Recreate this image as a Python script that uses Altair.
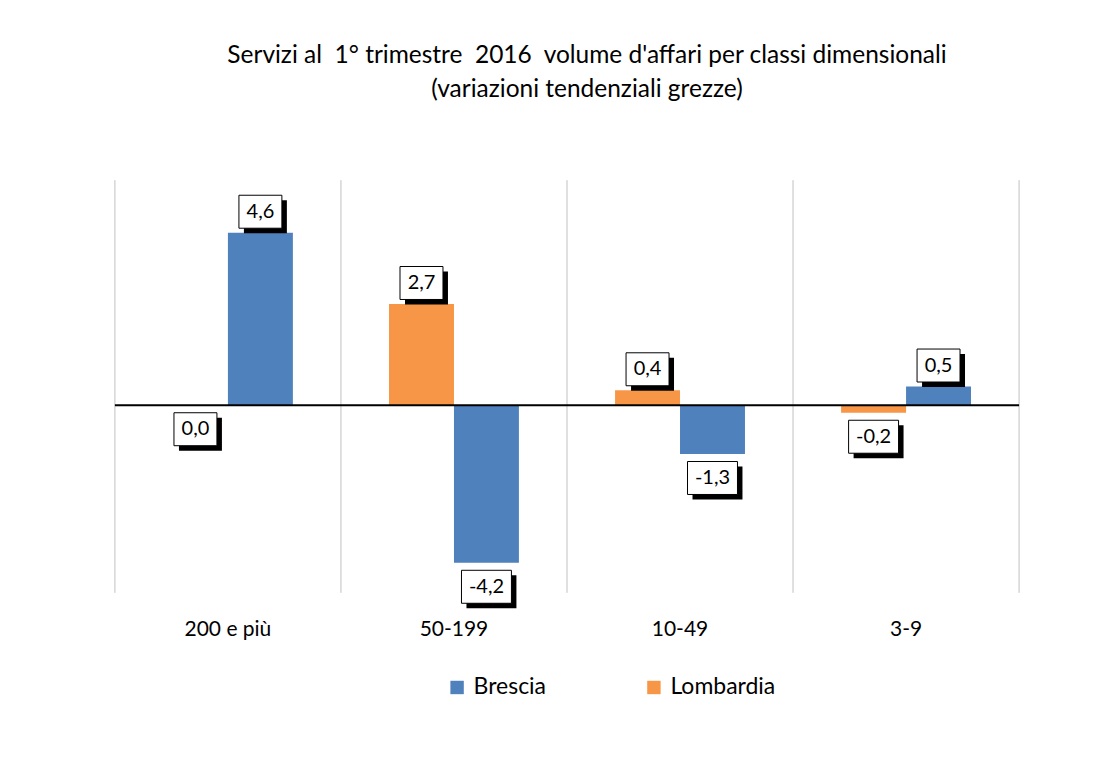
import altair as alt
import pandas as pd

categories = ["200 e più", "50-199", "10-49", "3-9"]
brescia = [4.6, -4.2, -1.3, 0.5]
lombardia = [0.0, 2.7, 0.4, -0.2]
legend_order = ["Brescia", "Lombardia"]
bar_order = ["Lombardia", "Brescia"]
colors = ["#4F81BD", "#F79646"]

rows = []
for i, c in enumerate(categories):
    rows.append({"cat": c, "serie": "Lombardia", "v": lombardia[i]})
    rows.append({"cat": c, "serie": "Brescia", "v": brescia[i]})
df = pd.DataFrame(rows)
df["label"] = df["v"].map(lambda v: f"{v:.1f}".replace(".", ","))

W, H = 905, 413
FONT = "Lato"

x_axis = alt.Axis(title=None, labelAngle=0, ticks=False, domain=False, grid=False,
                  bandPosition=0.5, labelAlign="center",
                  labelFontSize=21, labelFont=FONT, labelColor="#000000",
                  labelPadding=26)
x_enc = alt.X("cat:N", sort=categories,
              scale=alt.Scale(paddingInner=0, paddingOuter=0), axis=x_axis)
xo_enc = alt.XOffset("serie:N", sort=bar_order,
                     scale=alt.Scale(paddingInner=0, paddingOuter=0.74))
y_scale = alt.Scale(domain=[-5, 6], nice=False, zero=False)

bars = alt.Chart(df).mark_bar().encode(
    x=x_enc,
    xOffset=xo_enc,
    y=alt.Y("v:Q", scale=y_scale, axis=None),
    y2=alt.datum(0),
    color=alt.Color("serie:N", scale=alt.Scale(domain=legend_order, range=colors),
                    legend=alt.Legend(title=None, orient="none", direction="horizontal",
                                      legendX=331, legendY=496, symbolType="square",
                                      symbolSize=180, symbolStrokeWidth=0,
                                      labelFontSize=23, labelFont=FONT, labelColor="#000000",
                                      columnPadding=96, labelOffset=5, padding=0)),
)

grid = alt.Chart(pd.DataFrame({"cat": categories})).mark_rule(
    color="#C0C0C0", strokeWidth=1
).encode(
    x=alt.X("cat:N", sort=categories, bandPosition=0, axis=x_axis),
    y=alt.value(0), y2=alt.value(H)
)
grid_end = alt.Chart(pd.DataFrame({"cat": [categories[-1]]})).mark_rule(
    color="#C0C0C0", strokeWidth=1
).encode(
    x=alt.X("cat:N", sort=categories, bandPosition=1, axis=x_axis),
    y=alt.value(0), y2=alt.value(H)
)

zero = alt.Chart(pd.DataFrame({"z": [0]})).mark_rule(color="black", strokeWidth=2).encode(
    y=alt.Y("z:Q", scale=y_scale, axis=None),
    x=alt.value(0), x2=alt.value(W)
)

UNIT = 25.0  # half of sqrt(size)
BSIZE = (2 * UNIT) ** 2


def box_path(w, h, dx=0, dy=0):
    x0, x1 = (-w / 2 + dx) / UNIT, (w / 2 + dx) / UNIT
    y0, y1 = (-h / 2 + dy) / UNIT, (h / 2 + dy) / UNIT
    return f"M{x0:.3f},{y0:.3f}L{x1:.3f},{y0:.3f}L{x1:.3f},{y1:.3f}L{x0:.3f},{y1:.3f}Z"


BOX_H = 33
base = alt.Chart(df).transform_calculate(
    neg="indexof(datum.label, '-') == 0 ? 1 : 0"
)


def label_layers(filt, off, bw):
    b = base.transform_filter(filt)
    enc = dict(x=alt.X("cat:N", sort=categories, axis=x_axis), xOffset=xo_enc,
               y=alt.Y("v:Q", scale=y_scale, axis=None))
    shadow = b.mark_point(shape=box_path(bw, BOX_H, 5, 5), size=BSIZE, filled=True,
                          fill="black", opacity=1, strokeWidth=0, yOffset=off).encode(**enc)
    box = b.mark_point(shape=box_path(bw, BOX_H), size=BSIZE, filled=True, fill="white",
                       stroke="black", strokeWidth=1, opacity=1, yOffset=off).encode(**enc)
    txt = b.mark_text(font=FONT, fontSize=20, color="black", baseline="middle",
                      align="center", yOffset=off).encode(text="label:N", **enc)
    return [shadow, box, txt]


layers = [bars, grid, grid_end, zero]
layers += label_layers("datum.v > 0", -21, 43)
layers += label_layers("datum.v <= 0 && datum.neg == 0", 24, 43)
layers += label_layers("datum.v <= 0 && datum.neg == 1", 24, 50)

chart = alt.layer(*layers).properties(
    width=W, height=H,
    autosize=alt.AutoSizeParams(type="none"),
    padding={"left": 107, "top": 172, "right": 90, "bottom": 170},
    title=alt.Title(["Servizi al\u00a0 1° trimestre\u00a0 2016\u00a0 volume d'affari per classi dimensionali",
                     "(variazioni tendenziali grezze)"],
                    font=FONT, fontSize=24.5, fontWeight="normal", color="#000000",
                    anchor="middle", dx=20, offset=77, lineHeight=34),
).configure_view(stroke=None)

chart.save("out.html", embed_options={"renderer": "svg", "actions": False})
